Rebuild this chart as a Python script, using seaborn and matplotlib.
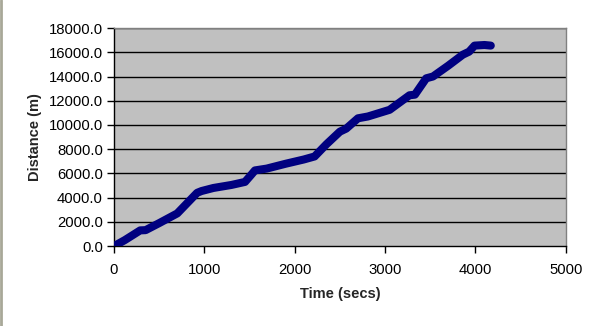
import pandas as pd
import seaborn as sns
import matplotlib.pyplot as plt
from matplotlib.lines import Line2D

# values
time_secs = [0, 120, 290, 350, 500, 700, 920, 970, 1100, 1300, 1450, 1520, 1560,
             1690, 1900, 2100, 2220, 2350, 2500, 2570, 2700, 2810, 3050, 3270,
             3330, 3455, 3530, 3700, 3860, 3930, 3990, 4100, 4170]
distance_m = [0, 500, 1300, 1320, 1900, 2700, 4400, 4550, 4800, 5050, 5300, 5900, 6250,
              6400, 6800, 7150, 7400, 8400, 9450, 9700, 10550, 10700, 11250, 12450,
              12500, 13850, 14000, 14900, 15800, 16050, 16550, 16600, 16550]
y_ticks = list(range(0, 18001, 2000))
x_ticks = list(range(0, 5001, 1000))

df = pd.DataFrame({"Time (secs)": time_secs, "Distance (m)": distance_m})

sns.set_style("white")
plt.rcParams['font.family'] = ['Liberation Sans', 'DejaVu Sans']

fig = plt.figure(figsize=(6, 3.26), dpi=100)
ax = fig.add_axes([0.19, 0.245, 0.753, 0.669])
ax.set_facecolor("#c0c0c0")

sns.lineplot(data=df, x="Time (secs)", y="Distance (m)", ax=ax, color="#000080",
             linewidth=5.8, solid_capstyle="round", solid_joinstyle="round", zorder=3)

ax.set_xlim(0, 5000)
ax.set_ylim(0, 18000)
ax.set_xticks(x_ticks)
ax.set_yticks(y_ticks)
ax.set_yticklabels([f"{v:.1f}" for v in y_ticks])
for v in y_ticks[1:]:
    ax.axhline(v, color="black", linewidth=1, zorder=1)

ax.tick_params(axis="both", direction="out", length=5, width=1, colors="black",
               labelsize=10.7, pad=3)
ax.tick_params(axis="x", pad=7)
ax.xaxis.set_ticks_position("bottom")
ax.yaxis.set_ticks_position("left")

for s in ["left", "bottom"]:
    ax.spines[s].set_color("black")
    ax.spines[s].set_linewidth(1)
for s in ["top", "right"]:
    ax.spines[s].set_color("#808080")
    ax.spines[s].set_linewidth(1)

ax.set_xlabel("Time (secs)", fontsize=10.5, fontweight="bold", labelpad=7)
ax.set_ylabel("Distance (m)", fontsize=10.5, fontweight="bold", labelpad=5)

# left edge of the chart frame
fig.add_artist(Line2D([0.002, 0.002], [0, 1], transform=fig.transFigure,
                      color="#a8a898", linewidth=2))

fig.savefig("out.png", dpi=100, facecolor="white")
